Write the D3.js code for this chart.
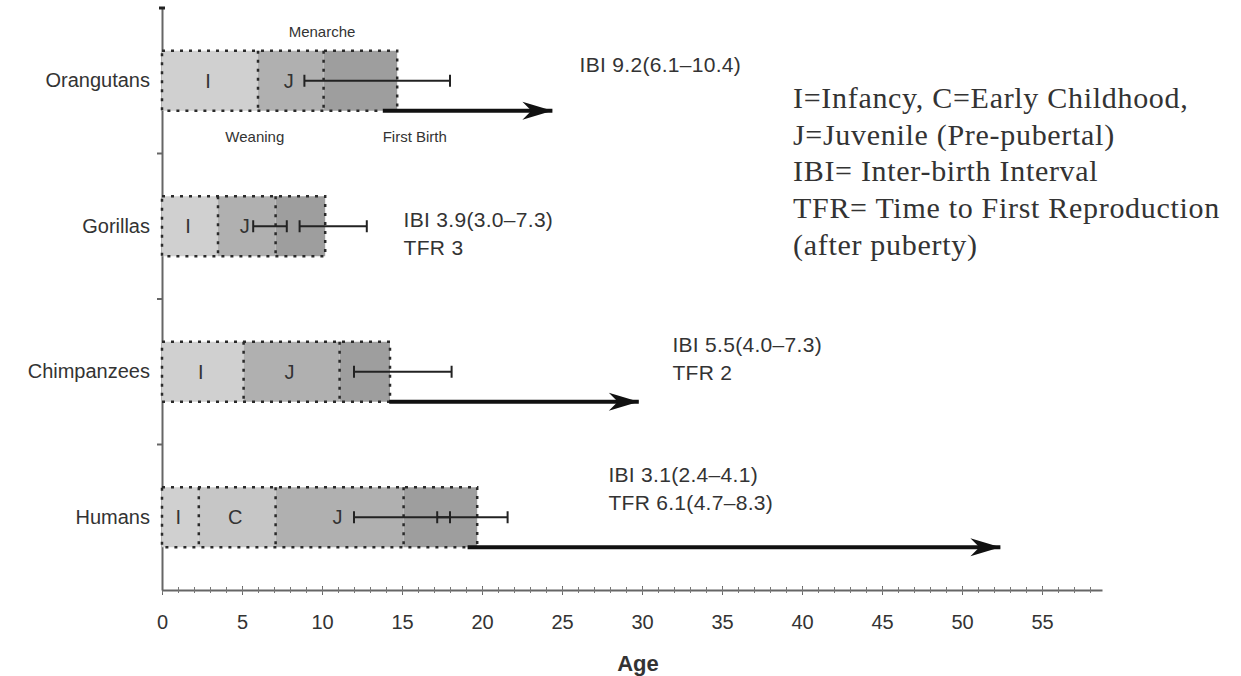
<!DOCTYPE html>
<html>
<head>
<meta charset="utf-8">
<script src="https://cdn.jsdelivr.net/npm/d3@7"></script>
<style>
  body { margin: 0; background: #fff; }
  svg text { font-family: "Liberation Sans", Arial, sans-serif; fill: #333; }
</style>
</head>
<body>
<div id="chart"></div>
<script>
var species = ["Orangutans", "Gorillas", "Chimpanzees", "Humans"];
// age (years) where each life stage ends, per species
var stageBreaks = [
  [0, 6.0, 10.1, 14.7],
  [0, 3.5, 7.1, 10.2],
  [0, 5.1, 11.1, 14.25],
  [0, 2.3, 7.1, 15.1, 19.7]
];
var stageNames = [
  ["I", "J", "A"],
  ["I", "J", "A"],
  ["I", "J", "A"],
  ["I", "C", "J", "A"]
];
var errorBars = [
  [[8.9, 18.0]],
  [[5.7, 7.8], [8.6, 12.8]],
  [[12.0, 18.1]],
  [[12.0, 18.0], [17.2, 21.6]]
];
var ibiArrows = [[13.8, 24.4], null, [14.2, 29.8], [19.1, 52.4]];
var notes = [
  ["IBI 9.2(6.1–10.4)"],
  ["IBI 3.9(3.0–7.3)", "TFR 3"],
  ["IBI 5.5(4.0–7.3)", "TFR 2"],
  ["IBI 3.1(2.4–4.1)", "TFR 6.1(4.7–8.3)"]
];
var noteAge = [26.1, 15.1, 31.9, 27.9];
var milestones = [
  {text: "Menarche", age: 10.0, side: "above"},
  {text: "Weaning", age: 5.8, side: "below"},
  {text: "First Birth", age: 15.8, side: "below"}
];
var xTicks = d3.range(0, 56, 5);
var legendLines = [
  "I=Infancy, C=Early Childhood,",
  "J=Juvenile (Pre-pubertal)",
  "IBI= Inter-birth Interval",
  "TFR= Time to First Reproduction",
  "(after puberty)"
];

var stageFill = {I: "#d0d0d0", C: "#c6c6c6", J: "#b0b0b0", A: "#9e9e9e"};

var svg = d3.select("#chart").append("svg")
   .attr("width", 1241)
   .attr("height", 676);

var defs = svg.append("defs");
defs.append("marker")
   .attr("id", "head")
   .attr("markerUnits", "userSpaceOnUse")
   .attr("viewBox", "-32 -11 34 22")
   .attr("markerWidth", 34)
   .attr("markerHeight", 22)
   .attr("refX", 0)
   .attr("refY", 0)
   .attr("orient", "auto")
   .append("path")
   .attr("d", "M0,0 L-30,-9 L-21,0 L-30,9 Z")
   .attr("fill", "#111");

var x = d3.scaleLinear().domain([0, 58.75]).range([162, 1102]);
var y = d3.scaleBand().domain(species).range([8, 590]);
var boxH = 60;

// axes
var xAxis = svg.append("g")
   .attr("transform", "translate(0,590)")
   .call(d3.axisBottom(x).tickValues(xTicks).tickSize(5).tickPadding(20).tickSizeOuter(0));
xAxis.select(".domain").attr("stroke", "#666").attr("stroke-width", 2);
xAxis.selectAll(".tick line").attr("y1", -4).attr("stroke", "#666");
xAxis.selectAll("text").style("font-size", "20px").attr("fill", "#333");

var minor = svg.append("g")
   .attr("transform", "translate(0,590)")
   .call(d3.axisBottom(x).tickValues(d3.range(0, 59, 1)).tickSize(3).tickFormat(""));
minor.select(".domain").remove();
minor.selectAll("line").attr("y1", -3).attr("stroke", "#777");

var yAxis = svg.append("g")
   .attr("transform", "translate(162,0)")
   .call(d3.axisLeft(y).tickSize(0).tickPadding(12).tickSizeOuter(0));
yAxis.select(".domain").attr("stroke", "#666").attr("stroke-width", 2);
yAxis.selectAll("text").style("font-size", "20px").attr("fill", "#333");

svg.selectAll(".ysep")
   .data(species.slice(1))
   .enter().append("line")
   .attr("class", "ysep")
   .attr("x1", 157).attr("x2", 162)
   .attr("y1", function(d) {return y(d)})
   .attr("y2", function(d) {return y(d)})
   .attr("stroke", "#666")
   .attr("stroke-width", 2);
svg.append("line")
   .attr("x1", 159).attr("x2", 165)
   .attr("y1", 8).attr("y2", 8)
   .attr("stroke", "#222").attr("stroke-width", 3);

svg.append("text")
   .attr("x", x(29.75))
   .attr("y", 671)
   .attr("text-anchor", "middle")
   .style("font-size", "22px")
   .style("font-weight", "bold")
   .attr("fill", "#222")
   .text("Age");

// rows
species.forEach(function(name, i) {
   var cy = y(name) + y.bandwidth() / 2;
   var top = cy - boxH / 2;
   var breaks = stageBreaks[i];
   var segs = d3.pairs(breaks).map(function(p, j) {
      return {a: p[0], b: p[1], name: stageNames[i][j]};
   });
   var g = svg.append("g").attr("class", "row");

   g.selectAll(".seg")
      .data(segs)
      .enter().append("rect")
      .attr("class", "seg")
      .attr("x", function(d) {return x(d.a)})
      .attr("width", function(d) {return x(d.b) - x(d.a)})
      .attr("y", top)
      .attr("height", boxH)
      .attr("fill", function(d) {return stageFill[d.name]});

   g.append("rect")
      .attr("x", x(0))
      .attr("y", top)
      .attr("width", x(breaks[breaks.length - 1]) - x(0))
      .attr("height", boxH)
      .attr("fill", "none")
      .attr("stroke", "#2a2a2a")
      .attr("stroke-width", 2.5)
      .attr("stroke-dasharray", "3,6");

   g.selectAll(".div")
      .data(breaks.slice(1, -1))
      .enter().append("line")
      .attr("class", "div")
      .attr("x1", function(d) {return x(d)})
      .attr("x2", function(d) {return x(d)})
      .attr("y1", top)
      .attr("y2", top + boxH)
      .attr("stroke", "#2a2a2a")
      .attr("stroke-width", 2.5)
      .attr("stroke-dasharray", "3,6");

   g.selectAll(".stage")
      .data(segs.filter(function(d) {return d.name !== "A"}))
      .enter().append("text")
      .attr("class", "stage")
      .attr("x", function(d) {return x((d.a + d.b) / 2) - 2})
      .attr("y", cy + 7)
      .attr("text-anchor", "middle")
      .style("font-size", "20px")
      .attr("fill", "#333")
      .text(function(d) {return d.name});

   errorBars[i].forEach(function(e) {
      g.append("line")
         .attr("x1", x(e[0])).attr("x2", x(e[1]))
         .attr("y1", cy).attr("y2", cy)
         .attr("stroke", "#222").attr("stroke-width", 2);
      g.selectAll(null)
         .data(e)
         .enter().append("line")
         .attr("x1", function(d) {return x(d)})
         .attr("x2", function(d) {return x(d)})
         .attr("y1", cy - 6).attr("y2", cy + 6)
         .attr("stroke", "#222").attr("stroke-width", 2);
   });

   if (ibiArrows[i]) {
      g.append("line")
         .attr("x1", x(ibiArrows[i][0]))
         .attr("x2", x(ibiArrows[i][1]))
         .attr("y1", top + boxH).attr("y2", top + boxH)
         .attr("stroke", "#111").attr("stroke-width", 4)
         .attr("marker-end", "url(#head)");
   }

   var noteTop = [cy - 16, cy - 6, cy - 27, cy - 42][i];
   g.selectAll(".note")
      .data(notes[i])
      .enter().append("text")
      .attr("class", "note")
      .attr("x", x(noteAge[i]))
      .attr("y", function(d, k) {return noteTop + 7 + k * 28})
      .style("font-size", "21px")
      .style("letter-spacing", "0.3px")
      .attr("fill", "#333")
      .text(function(d) {return d});

   if (i === 0) {
      g.selectAll(".mile")
         .data(milestones)
         .enter().append("text")
         .attr("class", "mile")
         .attr("x", function(d) {return x(d.age)})
         .attr("y", function(d) {return d.side === "above" ? top - 14 : top + boxH + 31})
         .attr("text-anchor", "middle")
         .style("font-size", "15px")
         .attr("fill", "#666")
         .text(function(d) {return d.text});
   }
});

// legend
svg.append("g")
   .selectAll("text")
   .data(legendLines)
   .enter().append("text")
   .attr("x", 793)
   .attr("y", function(d, k) {return 108 + k * 36.7})
   .style("font-family", "'Liberation Serif', 'Times New Roman', serif")
   .style("font-size", "30px")
   .style("letter-spacing", "0.7px")
   .attr("fill", "#111")
   .text(function(d) {return d});
</script>
</body>
</html>
